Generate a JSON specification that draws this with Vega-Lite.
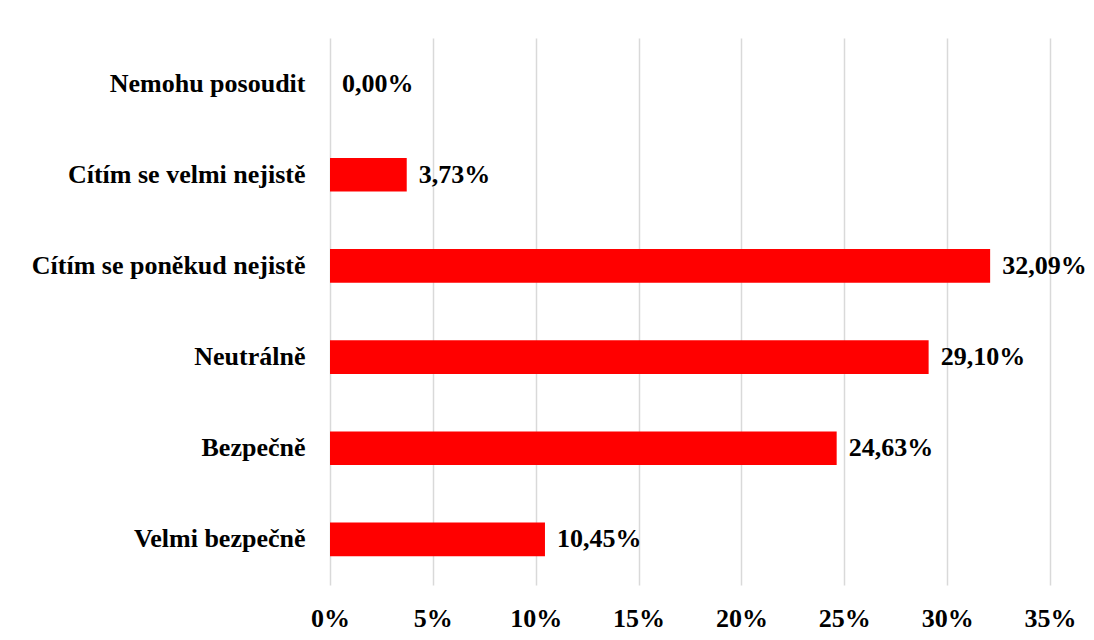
{
  "$schema": "https://vega.github.io/schema/vega-lite/v6.json",
  "autosize": "none",
  "width": 720,
  "height": 547,
  "padding": {"left": 330, "top": 38, "right": 44, "bottom": 55},
  "background": "white",
  "config": {
    "locale": {"number": {"decimal": ",", "thousands": " ", "grouping": [3], "currency": ["", " Kč"], "percent": "%"}},
    "view": {"stroke": null},
    "font": "Liberation Serif",
    "axis": {"labelFont": "Liberation Serif", "labelFontSize": 26, "labelFontWeight": "bold", "labelColor": "black", "labelLimit": 0}
  },
  "data": {
    "values": [
      {"category": "Nemohu posoudit", "value": 0.0},
      {"category": "Cítím se velmi nejistě", "value": 0.0373},
      {"category": "Cítím se poněkud nejistě", "value": 0.3209},
      {"category": "Neutrálně", "value": 0.2910},
      {"category": "Bezpečně", "value": 0.2463},
      {"category": "Velmi bezpečně", "value": 0.1045}
    ]
  },
  "encoding": {
    "y": {
      "field": "category", "type": "nominal", "sort": null, "title": null,
      "scale": {"paddingInner": 0.63, "paddingOuter": 0.315},
      "axis": {"domain": false, "ticks": false, "labelPadding": 25, "grid": false, "labelLimit": 0}
    },
    "x": {
      "field": "value", "type": "quantitative", "title": null,
      "scale": {"domain": [0, 0.35], "nice": false},
      "axis": {"format": ".0%", "values": [0, 0.05, 0.1, 0.15, 0.2, 0.25, 0.3, 0.35], "domain": false, "ticks": false, "grid": true, "gridColor": "#d9d9d9", "gridWidth": 1.5, "labelPadding": 20, "labelFlush": false}
    }
  },
  "layer": [
    {"mark": {"type": "bar", "color": "#ff0000"}},
    {
      "mark": {"type": "text", "align": "left", "baseline": "middle", "dx": 12, "fontSize": 26, "fontWeight": "bold", "font": "Liberation Serif", "color": "black"},
      "encoding": {"text": {"field": "value", "type": "quantitative", "format": ".2%"}}
    }
  ]
}
